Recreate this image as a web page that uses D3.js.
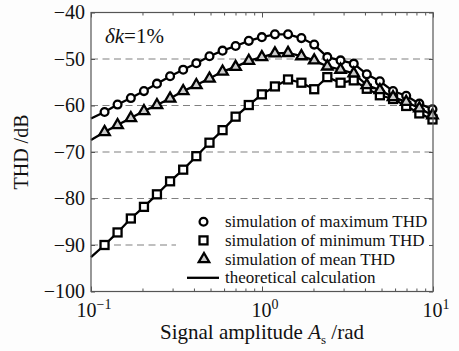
<!DOCTYPE html>
<html>
  <head>
    <meta charset="utf-8" />
    <style>
      body {
        margin: 0;
        background: #fdfdfd;
      }
      svg text {
        font-family: "Liberation Serif", "Times New Roman", serif;
      }
      .tick-label {
        font-size: 20px;
        fill: #111;
      }
      .legend-text {
        font-size: 17px;
        fill: #111;
      }
    </style>
  </head>
  <body>
    <svg width="459" height="351"></svg>
    <script src="https://d3js.org/d3.v7.min.js"></script>
    <script>
      // signal amplitude (rad) at each simulated point
      let ampX = [0.12, 0.143, 0.171, 0.204, 0.243, 0.29, 0.346, 0.413, 0.493,
        0.588, 0.701, 0.837, 0.998, 1.19, 1.42, 1.7, 2.02, 2.41, 2.88, 3.44,
        4.1, 4.89, 5.84, 6.97, 8.32, 9.93];

      let thdMax = [-61.4, -59.8, -58.4, -56.9, -55.3, -53.7, -52.3, -50.9, -49.4,
        -48.2, -47.2, -46.1, -45.3, -44.7, -44.7, -45.5, -46.9, -49.6, -50.3,
        -51.0, -53.3, -54.8, -56.9, -57.9, -59.6, -60.8];

      let thdMin = [-90.0, -87.3, -84.3, -81.8, -79.1, -76.3, -73.8, -70.9, -68.0,
        -65.3, -62.4, -59.9, -57.6, -55.9, -54.4, -55.1, -56.5, -53.9, -55.1,
        -54.6, -56.4, -57.8, -58.6, -60.1, -61.7, -63.0];

      let thdMean = [-65.7, -64.2, -62.7, -61.2, -59.9, -58.5, -56.9, -55.6, -54.2,
        -52.7, -51.7, -50.4, -49.6, -48.8, -48.7, -49.4, -50.3, -51.6, -52.3,
        -53.1, -55.6, -56.7, -58.2, -59.2, -60.6, -62.1];

      // theoretical curves start at the left edge (A = 0.1 rad)
      let lineStartX = 0.1;
      let lineStart = [-62.8, -92.6, -67.4]; // max, min, mean

      let yTicks = [-100, -90, -80, -70, -60, -50, -40];
      let gridTicks = [-90, -80, -70, -60, -50];
      let xMajor = [0.1, 1, 10];
      let xLabels = ["−1", "0", "1"];
      let legendItems = [
        "simulation of maximum THD",
        "simulation of minimum THD",
        "simulation of mean THD",
        "theoretical calculation",
      ];

      let margin = { top: 12.5, right: 26, bottom: 59.5, left: 91 };
      let width = 459;
      let height = 351;

      let svg = d3.select("svg");

      let x = d3
        .scaleLog()
        .domain([0.1, 10])
        .range([margin.left, width - margin.right]);

      let y = d3
        .scaleLinear()
        .domain([-100, -40])
        .range([height - margin.bottom, margin.top]);

      // plot background
      svg
        .append("rect")
        .attr("x", x(0.1))
        .attr("y", y(-40))
        .attr("width", x(10) - x(0.1))
        .attr("height", y(-100) - y(-40))
        .attr("fill", "white");

      // dashed grid lines
      svg
        .append("g")
        .selectAll("line")
        .data(gridTicks)
        .join("line")
        .attr("x1", x(0.1))
        .attr("x2", x(10))
        .attr("y1", (d) => y(d))
        .attr("y2", (d) => y(d))
        .attr("stroke", "#808080")
        .attr("stroke-width", 1.2)
        .attr("stroke-dasharray", "7,4.5");

      // curves
      let line = d3
        .line()
        .x((d) => x(d[0]))
        .y((d) => y(d[1]));

      let series = [thdMax, thdMin, thdMean];
      let graph = svg.append("g");
      series.forEach((s, i) => {
        let pts = [[lineStartX, lineStart[i]]].concat(ampX.map((a, j) => [a, s[j]]));
        graph
          .append("path")
          .attr("d", line(pts))
          .attr("fill", "none")
          .attr("stroke", "black")
          .attr("stroke-width", 2.3);
      });

      // markers
      let mk = 2.3; // marker outline width
      let markers = svg.append("g");
      markers
        .selectAll(".m-max")
        .data(thdMax)
        .join("circle")
        .attr("class", "m-max")
        .attr("cx", (d, i) => x(ampX[i]))
        .attr("cy", (d) => y(d))
        .attr("r", 3.9)
        .attr("fill", "white")
        .attr("stroke", "black")
        .attr("stroke-width", mk);

      markers
        .selectAll(".m-min")
        .data(thdMin)
        .join("rect")
        .attr("class", "m-min")
        .attr("x", (d, i) => x(ampX[i]) - 4)
        .attr("y", (d) => y(d) - 4)
        .attr("width", 8)
        .attr("height", 8)
        .attr("fill", "white")
        .attr("stroke", "black")
        .attr("stroke-width", mk);

      let tri = d3.symbol().type(d3.symbolTriangle).size(48);
      markers
        .selectAll(".m-mean")
        .data(thdMean)
        .join("path")
        .attr("class", "m-mean")
        .attr("d", tri)
        .attr("transform", (d, i) => `translate(${x(ampX[i])},${y(d)})`)
        .attr("fill", "#ccc")
        .attr("stroke", "black")
        .attr("stroke-width", mk);

      // legend
      let lg = svg.append("g");
      let lgX = 176;
      let lgTop = 208;
      lg.append("rect")
        .attr("x", lgX)
        .attr("y", lgTop)
        .attr("width", x(10) - lgX - 1)
        .attr("height", y(-100) - lgTop - 1)
        .attr("fill", "white");

      let rowY = (i) => 221.7 + i * 18.7;
      lg.append("circle")
        .attr("cx", 203.5)
        .attr("cy", rowY(0))
        .attr("r", 3.9)
        .attr("fill", "white")
        .attr("stroke", "black")
        .attr("stroke-width", mk);
      lg.append("rect")
        .attr("x", 203.5 - 4)
        .attr("y", rowY(1) - 4)
        .attr("width", 8)
        .attr("height", 8)
        .attr("fill", "white")
        .attr("stroke", "black")
        .attr("stroke-width", mk);
      lg.append("path")
        .attr("d", tri)
        .attr("transform", `translate(204,${rowY(2)})`)
        .attr("fill", "#ccc")
        .attr("stroke", "black")
        .attr("stroke-width", mk);
      lg.append("line")
        .attr("x1", 187)
        .attr("x2", 219)
        .attr("y1", rowY(3))
        .attr("y2", rowY(3))
        .attr("stroke", "black")
        .attr("stroke-width", 2.3);

      lg.selectAll(".legend-text")
        .data(legendItems)
        .join("text")
        .attr("class", "legend-text")
        .attr("x", 225)
        .attr("y", (d, i) => rowY(i))
        .attr("dy", "0.33em")
        .text((d) => d);

      // axes: ticks point inward
      let minorX = [];
      [0.1, 1].forEach((dec) => {
        for (let k = 2; k <= 9; k++) minorX.push(dec * k);
      });

      let axisColor = "#555";
      function styleAxis(g) {
        g.attr("font-family", null).attr("font-size", null);
        g.selectAll(".domain").remove();
        g.selectAll(".tick line").attr("stroke", axisColor).attr("stroke-width", 1);
      }

      svg.append("g")
        .attr("transform", `translate(0,${y(-100)})`)
        .call(d3.axisBottom(x).tickValues(minorX).tickSize(-3).tickFormat(""))
        .call(styleAxis);
      svg.append("g")
        .attr("transform", `translate(0,${y(-100)})`)
        .call(d3.axisBottom(x).tickValues(xMajor).tickSize(-5).tickFormat(""))
        .call(styleAxis);
      svg.append("g")
        .attr("transform", `translate(0,${y(-40)})`)
        .call(d3.axisTop(x).tickValues(minorX).tickSize(-3).tickFormat(""))
        .call(styleAxis);
      svg.append("g")
        .attr("transform", `translate(0,${y(-40)})`)
        .call(d3.axisTop(x).tickValues(xMajor).tickSize(-5).tickFormat(""))
        .call(styleAxis);

      let yAxis = svg
        .append("g")
        .attr("transform", `translate(${x(0.1)},0)`)
        .call(d3.axisLeft(y).tickValues(yTicks).tickSize(-4).tickPadding(6))
        .call(styleAxis);
      yAxis.selectAll(".tick text").attr("class", "tick-label");
      svg.append("g")
        .attr("transform", `translate(${x(10)},0)`)
        .call(d3.axisRight(y).tickValues(yTicks).tickSize(-4).tickFormat(""))
        .call(styleAxis);

      // frame
      svg
        .append("rect")
        .attr("x", x(0.1))
        .attr("y", y(-40))
        .attr("width", x(10) - x(0.1))
        .attr("height", y(-100) - y(-40))
        .attr("fill", "none")
        .attr("stroke", axisColor)
        .attr("stroke-width", 1.2);

      // x tick labels 10^n
      let xl = svg
        .append("g")
        .selectAll("text")
        .data(xMajor)
        .join("text")
        .attr("class", "tick-label")
        .attr("x", (d) => x(d) + 3)
        .attr("y", 317)
        .attr("text-anchor", "middle");
      xl.append("tspan").text("10");
      xl.append("tspan")
        .attr("dy", -8)
        .attr("font-size", 14)
        .text((d, i) => xLabels[i]);

      // annotation
      let ann = svg
        .append("text")
        .attr("x", 105)
        .attr("y", 43)
        .attr("font-size", 21)
        .attr("fill", "#111");
      ann.append("tspan").attr("font-style", "italic").text("δk");
      ann.append("tspan").text("=1%");

      // axis titles
      svg
        .append("text")
        .attr("transform", `translate(28,${(y(-40) + y(-100)) / 2}) rotate(-90)`)
        .attr("text-anchor", "middle")
        .attr("font-size", 20)
        .attr("fill", "#111")
        .text("THD /dB");

      let xt = svg
        .append("text")
        .attr("x", (x(0.1) + x(10)) / 2)
        .attr("y", 339)
        .attr("text-anchor", "middle")
        .attr("font-size", 21)
        .attr("fill", "#111");
      xt.append("tspan").text("Signal amplitude ");
      xt.append("tspan").attr("font-style", "italic").text("A");
      xt.append("tspan").attr("font-size", 13).attr("dy", 5).text("s");
      xt.append("tspan").attr("dy", -5).text(" /rad");
    </script>
  </body>
</html>
